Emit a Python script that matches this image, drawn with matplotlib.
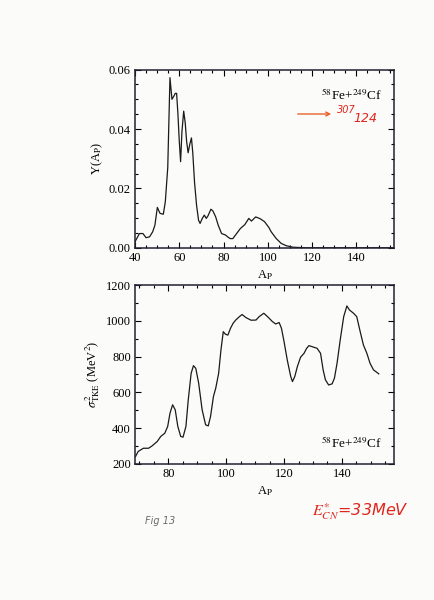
import matplotlib
matplotlib.use('Agg')
import matplotlib.pyplot as plt
from matplotlib.ticker import MultipleLocator

# fragment yield Y(A_P)
a_yield = [40, 42, 43.6, 45, 46.6, 48, 49, 50.1, 51.3, 52.8, 53.7, 54.8, 55.8, 56.7,
           57.5, 58.2, 58.8, 59.4, 60, 60.6, 61.2, 62, 62.7, 63.3, 64, 64.8, 65.5,
           66.1, 66.9, 67.8, 68.7, 69.4, 70.4, 71.3, 72.2, 73, 74.3, 75.2, 76.4,
           77.6, 79.1, 80.9, 81.8, 83, 84.2, 85.4, 87.6, 89.6, 91.4, 92.6, 94.5,
           96.5, 98.5, 100.5, 101.5, 103.8, 106, 108.3, 111.4, 117, 130, 145, 157]
y_yield = [0.002, 0.0048, 0.0048, 0.0034, 0.0037, 0.0054, 0.0076, 0.0136, 0.0116,
           0.0113, 0.0155, 0.027, 0.0573, 0.050, 0.051, 0.052, 0.052, 0.045, 0.036,
           0.029, 0.039, 0.046, 0.042, 0.036, 0.032, 0.035, 0.037, 0.032, 0.022,
           0.0144, 0.0093, 0.0082, 0.0099, 0.011, 0.0099, 0.0108, 0.013, 0.0124,
           0.0105, 0.0076, 0.0048, 0.0043, 0.0037, 0.0031, 0.0031, 0.0043, 0.0065,
           0.0078, 0.0099, 0.009, 0.0104, 0.0098, 0.0088, 0.0068, 0.0054, 0.0031,
           0.0015, 0.0007, 0.0002, 0.0, 0.0, 0.0, 0.0]

# TKE variance sigma^2_TKE
a_tke = [68.7, 69.6, 71.4, 73.2, 74.4, 76.2, 77.4, 78.8, 79.8, 80.6, 81.5, 82.4,
         83.3, 84.3, 85.1, 86.1, 86.9, 87.9, 88.7, 89.5, 90.5, 91.7, 92.9, 93.8,
         94.6, 95.6, 96.4, 97.4, 98.2, 99, 99.8, 100.6, 101.5, 102.4, 103.3, 104.5,
         105.5, 106.8, 108.6, 110.3, 111.4, 113.0, 114.3, 116, 117.1, 118.3, 119.1,
         120, 121.1, 122.3, 122.9, 123.7, 124.6, 125.7, 126.9, 127.8, 128.6, 129.7,
         131.4, 132.6, 133.5, 134.3, 135.4, 136.6, 137.4, 138.3, 139.4, 140.6, 141.7,
         142.6, 144, 145.1, 146.3, 147.4, 148.6, 149.7, 150.9, 152, 152.7]
s_tke = [241, 269, 287, 287, 300, 325, 353, 371, 409, 483, 530, 502, 409, 353, 349,
         409, 557, 706, 749, 734, 651, 502, 418, 412, 464, 576, 623, 706, 837, 939,
         924, 920, 958, 986, 1004, 1022, 1035, 1018, 1003, 1004, 1023, 1042, 1023,
         995, 982, 990, 958, 883, 781, 688, 660, 688, 744, 796, 818, 846, 861, 855,
         846, 818, 725, 669, 641, 647, 679, 762, 893, 1023, 1083, 1060, 1042, 1023,
         939, 865, 818, 762, 725, 712, 703]

plt.rcParams['font.family'] = ['Liberation Serif', 'DejaVu Serif']
plt.rcParams['mathtext.fontset'] = 'stix'
plt.rcParams['font.size'] = 9

paper = '#fbfbf9'
fig = plt.figure(figsize=(4.34, 6.0), dpi=100, facecolor=paper)

ax1 = fig.add_axes([0.311, 0.587, 0.597, 0.297], facecolor=paper)
ax2 = fig.add_axes([0.311, 0.227, 0.597, 0.298], facecolor=paper)

ax1.plot(a_yield, y_yield, color='#1a1a1a', lw=0.9)
ax1.set_xlim(40, 157)
ax1.set_ylim(0, 0.06)
ax1.xaxis.set_major_locator(MultipleLocator(20))
ax1.xaxis.set_minor_locator(MultipleLocator(5))
ax1.yaxis.set_major_locator(MultipleLocator(0.02))
ax1.yaxis.set_minor_locator(MultipleLocator(0.005))
ax1.yaxis.set_major_formatter(matplotlib.ticker.FormatStrFormatter('%.2f'))
ax1.set_xlabel(r'A$_{\rm P}$', labelpad=3)
ax1.set_ylabel(r'Y(A$_{\rm P}$)', labelpad=3)
ax1.text(0.953, 0.858, r'$^{58}$Fe+$^{249}$Cf', transform=ax1.transAxes,
         ha='right', va='center', fontsize=9.5)

ax2.plot(a_tke, s_tke, color='#1a1a1a', lw=0.9)
ax2.set_xlim(68.5, 158)
ax2.set_ylim(200, 1200)
ax2.xaxis.set_major_locator(MultipleLocator(20))
ax2.xaxis.set_minor_locator(MultipleLocator(5))
ax2.yaxis.set_major_locator(MultipleLocator(200))
ax2.yaxis.set_minor_locator(MultipleLocator(100))
ax2.set_xlabel(r'A$_{\rm P}$', labelpad=3)
ax2.set_ylabel(r'$\sigma^{2}_{\rm TKE}$ (MeV$^{2}$)', labelpad=3)
ax2.text(0.953, 0.117, r'$^{58}$Fe+$^{249}$Cf', transform=ax2.transAxes,
         ha='right', va='center', fontsize=9.5)

for ax in (ax1, ax2):
    ax.tick_params(which='both', direction='in', top=True, right=True,
                   labelsize=9, pad=3, width=0.8)
    ax.tick_params(which='major', length=4.5)
    ax.tick_params(which='minor', length=2.5)
    for s in ax.spines.values():
        s.set_linewidth(1.1)
        s.set_color('#222233')

# handwritten notes on the scan
red = '#e0261c'
fig.patches.append(matplotlib.patches.FancyArrowPatch(
    (295 / 434, 1 - 114 / 600), (334 / 434, 1 - 114 / 600),
    transform=fig.transFigure, arrowstyle='->', mutation_scale=7,
    color='#e8602a', lw=1.0))
fig.text(337 / 434, 1 - 110 / 600, '307', color=red, fontsize=7,
         style='italic', family='DejaVu Sans', ha='left', va='center')
fig.text(353 / 434, 1 - 118 / 600, '124', color=red, fontsize=9,
         style='italic', family='DejaVu Sans', ha='left', va='center')
fig.text(360 / 434, 1 - 512 / 600, r'$E^{*}_{CN}$=33MeV', color=red,
         fontsize=11.5, style='italic', family='DejaVu Sans', ha='center',
         va='center')
fig.text(160 / 434, 1 - 521 / 600, 'Fig 13', color='#6a6a6a', fontsize=7,
         style='italic', family='DejaVu Sans', ha='center', va='center')

fig.savefig('out.png', dpi=100, facecolor=paper)
